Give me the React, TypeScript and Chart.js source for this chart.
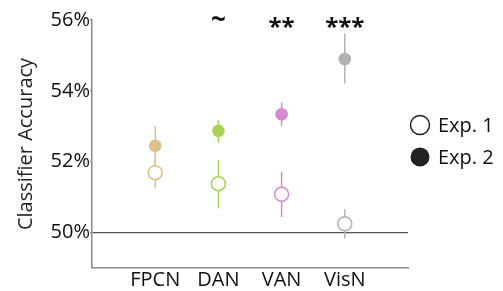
import React, { useEffect, useRef } from "react";
import { Chart, registerables } from "chart.js";

Chart.register(...registerables);

const categories = ["FPCN", "DAN", "VAN", "VisN"];
const networkColors = ["#dcc08e", "#a9d352", "#d888cf", "#b2b2b2"];

const exp1Mean = [51.69, 51.38, 51.08, 50.25];
const exp1Lower = [51.25, 50.68, 50.44, 49.84];
const exp1Upper = [52.1, 52.05, 51.71, 50.66];

const exp2Mean = [52.45, 52.87, 53.34, 54.9];
const exp2Lower = [51.9, 52.54, 53.01, 54.21];
const exp2Upper = [53.01, 53.17, 53.67, 55.62];

const sigLabels = ["", "~", "**", "***"];
const yTicks = [50, 52, 54, 56];
const legendLabels = ["Exp. 1", "Exp. 2"];

const FONT = "'Open Sans', 'DejaVu Sans', sans-serif";

export default function App() {
  const ref = useRef<HTMLCanvasElement>(null);

  useEffect(() => {
    if (!ref.current) return;

    const errorBars = {
      id: "errorBars",
      beforeDatasetsDraw(chart: any) {
        const { ctx } = chart;
        const xs = chart.scales.x;
        const ys = chart.scales.y;
        ctx.save();
        ctx.lineWidth = 1.5;
        const sets = [
          [exp1Lower, exp1Upper],
          [exp2Lower, exp2Upper],
        ];
        sets.forEach(([lo, hi]) => {
          categories.forEach((_, i) => {
            const x = xs.getPixelForValue(i + 1);
            ctx.strokeStyle = networkColors[i];
            ctx.beginPath();
            ctx.moveTo(x, ys.getPixelForValue(lo[i]));
            ctx.lineTo(x, ys.getPixelForValue(hi[i]));
            ctx.stroke();
          });
        });
        ctx.restore();
      },
    };

    const annotations = {
      id: "annotations",
      afterDraw(chart: any) {
        const { ctx, chartArea } = chart;
        const xs = chart.scales.x;
        ctx.save();
        // significance markers
        ctx.fillStyle = "#111";
        ctx.textAlign = "center";
        ctx.textBaseline = "middle";
        sigLabels.forEach((s, i) => {
          if (!s) return;
          const x = xs.getPixelForValue(i + 1);
          if (s === "~") {
            ctx.font = `bold 26px ${FONT}`;
            ctx.fillText(s, x, chartArea.top + 1);
          } else {
            ctx.font = `bold 24px ${FONT}`;
            ctx.fillText(s, x, chartArea.top + 8);
          }
        });
        // legend
        const cx = chartArea.right + 12;
        const tx = chartArea.right + 30;
        const rows = [125, 157];
        ctx.font = `20px ${FONT}`;
        ctx.textAlign = "left";
        ctx.textBaseline = "middle";
        legendLabels.forEach((lab, i) => {
          const y = rows[i];
          ctx.beginPath();
          ctx.arc(cx, y, 9.5, 0, Math.PI * 2);
          if (i === 0) {
            ctx.fillStyle = "#fff";
            ctx.fill();
            ctx.lineWidth = 1.5;
            ctx.strokeStyle = "#222";
            ctx.stroke();
          } else {
            ctx.fillStyle = "#222";
            ctx.fill();
          }
          ctx.fillStyle = "#111";
          ctx.fillText(lab, tx, y + 1);
        });
        ctx.restore();
      },
    };

    const chart = new Chart(ref.current, {
      type: "scatter",
      data: {
        datasets: [
          {
            label: legendLabels[0],
            data: categories.map((_, i) => ({ x: i + 1, y: exp1Mean[i] })),
            pointRadius: 7,
            pointBackgroundColor: "#ffffff",
            pointBorderColor: networkColors,
            pointBorderWidth: 1.5,
          },
          {
            label: legendLabels[1],
            data: categories.map((_, i) => ({ x: i + 1, y: exp2Mean[i] })),
            pointRadius: 6.3,
            pointBackgroundColor: networkColors,
            pointBorderColor: networkColors,
            pointBorderWidth: 0,
          },
        ],
      },
      options: {
        animation: false,
        responsive: false,
        devicePixelRatio: 1,
        layout: { padding: { left: 0, top: 20, right: 95, bottom: 0 } },
        plugins: { legend: { display: false }, tooltip: { enabled: false } },
        scales: {
          x: {
            type: "linear",
            min: 0,
            max: 5,
            afterBuildTicks: (s: any) => {
              s.ticks = categories.map((_, i) => ({ value: i + 1 }));
            },
            afterFit: (s: any) => {
              s.height = 23;
            },
            ticks: {
              callback: (v: any) => categories[Number(v) - 1] ?? "",
              font: { family: FONT, size: 20 },
              color: "#111",
              padding: 0,
              autoSkip: false,
              maxRotation: 0,
            },
            grid: { display: false, drawTicks: false },
            border: { display: true, color: "#8a8a8a", width: 1.5 },
          },
          y: {
            min: 49,
            max: 56,
            afterBuildTicks: (s: any) => {
              s.ticks = yTicks.map((v) => ({ value: v }));
            },
            afterFit: (s: any) => {
              s.width = 92;
            },
            ticks: {
              callback: (v: any) => `${v}%`,
              font: { family: FONT, size: 20 },
              color: "#111",
              padding: 0,
            },
            grid: {
              color: (c: any) =>
                c.tick && c.tick.value === 50 ? "#555555" : "rgba(0,0,0,0)",
              lineWidth: 1.3,
              tickLength: 2,
              tickColor: "#888888",
            },
            border: { display: true, color: "#8a8a8a", width: 1.5 },
            title: {
              display: true,
              text: "Classifier Accuracy",
              font: { family: FONT, size: 20 },
              color: "#222",
              padding: { top: 14, bottom: 0 },
            },
          },
        },
      },
      plugins: [errorBars, annotations],
    });

    return () => chart.destroy();
  }, []);

  return (
    <div
      style={{
        position: "fixed",
        left: 0,
        top: 0,
        width: 503,
        height: 291,
        background: "#fff",
      }}
    >
      <canvas ref={ref} width={503} height={291} style={{ width: 503, height: 291 }} />
    </div>
  );
}
